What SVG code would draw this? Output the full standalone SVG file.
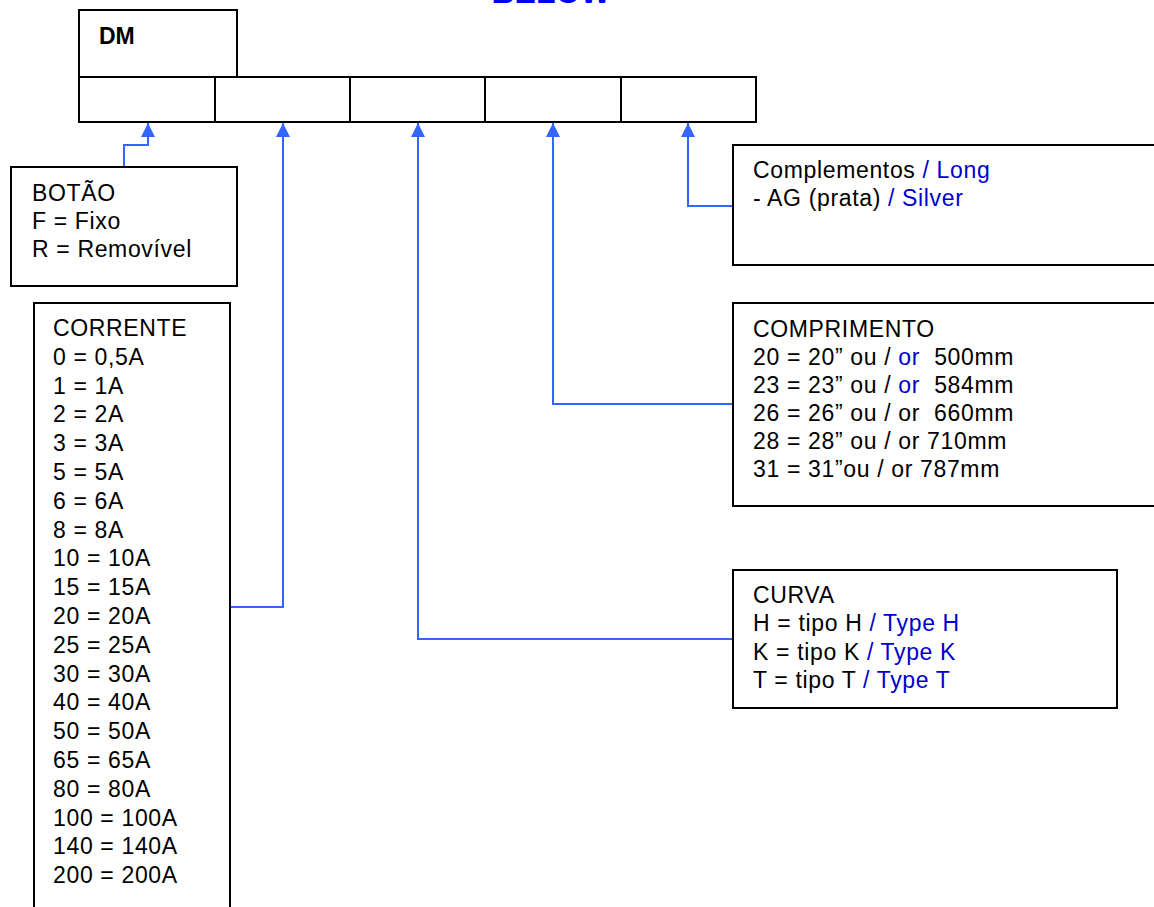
<svg xmlns="http://www.w3.org/2000/svg" width="1154" height="907" viewBox="0 0 1154 907">
<style>
.box{fill:#fff;stroke:#000;stroke-width:2}
.t{font-family:"Liberation Sans",Arial,sans-serif;font-size:23px;letter-spacing:0.65px;fill:#000;white-space:pre}
.b{fill:#0000cc}
.con{fill:none;stroke:#3366ff;stroke-width:2}
</style>
<defs>
<marker id="ah" markerWidth="14" markerHeight="14" viewBox="0 0 14 14" refX="14" refY="7" orient="auto" markerUnits="userSpaceOnUse">
<path d="M0,0 L14,7 L0,14 Z" fill="#3366ff"/>
</marker>
</defs>
<rect width="1154" height="907" fill="#fff"/>
<text x="551" y="3" text-anchor="middle" font-family="Liberation Sans,Arial,sans-serif" font-weight="bold" font-size="32" fill="#0000ff">BELOW</text>
<g id="header">
<rect class="box" x="79" y="10" width="158" height="67"/>
<text x="99" y="44" font-family="Liberation Sans,Arial,sans-serif" font-weight="bold" font-size="23" fill="#000">DM</text>
<rect class="box" x="79" y="77" width="136" height="45"/>
<rect class="box" x="215" y="77" width="135" height="45"/>
<rect class="box" x="350" y="77" width="135" height="45"/>
<rect class="box" x="485" y="77" width="136" height="45"/>
<rect class="box" x="621" y="77" width="135" height="45"/>
</g>
<g id="connectors">
<path class="con" d="M124,167 V145 H148 V123" marker-end="url(#ah)"/>
<path class="con" d="M230,607 H283 V123" marker-end="url(#ah)"/>
<path class="con" d="M733,639 H418 V123" marker-end="url(#ah)"/>
<path class="con" d="M733,404 H553 V123" marker-end="url(#ah)"/>
<path class="con" d="M733,206 H688 V123" marker-end="url(#ah)"/>
</g>
<g id="botao">
<rect class="box" x="11" y="167" width="226" height="119"/>
<text class="t" x="32" y="201">BOTÃO</text>
<text class="t" x="32" y="229">F = Fixo</text>
<text class="t" x="32" y="257">R = Removível</text>
</g>
<g id="corrente">
<rect class="box" x="34" y="303" width="196" height="620"/>
<text class="t" x="53">
<tspan x="53" y="336">CORRENTE</tspan>
<tspan x="53" y="364.8">0 = 0,5A</tspan>
<tspan x="53" y="393.6">1 = 1A</tspan>
<tspan x="53" y="422.4">2 = 2A</tspan>
<tspan x="53" y="451.2">3 = 3A</tspan>
<tspan x="53" y="480">5 = 5A</tspan>
<tspan x="53" y="508.8">6 = 6A</tspan>
<tspan x="53" y="537.6">8 = 8A</tspan>
<tspan x="53" y="566.4">10 = 10A</tspan>
<tspan x="53" y="595.2">15 = 15A</tspan>
<tspan x="53" y="624">20 = 20A</tspan>
<tspan x="53" y="652.8">25 = 25A</tspan>
<tspan x="53" y="681.6">30 = 30A</tspan>
<tspan x="53" y="710.4">40 = 40A</tspan>
<tspan x="53" y="739.2">50 = 50A</tspan>
<tspan x="53" y="768">65 = 65A</tspan>
<tspan x="53" y="796.8">80 = 80A</tspan>
<tspan x="53" y="825.6">100 = 100A</tspan>
<tspan x="53" y="854.4">140 = 140A</tspan>
<tspan x="53" y="883.2">200 = 200A</tspan>
</text>
</g>
<g id="complementos">
<rect class="box" x="733" y="145" width="440" height="120"/>
<text class="t" x="753" y="178">Complementos <tspan class="b">/ Long</tspan></text>
<text class="t" x="753" y="206">- AG (prata) <tspan class="b">/ Silver</tspan></text>
</g>
<g id="comprimento">
<rect class="box" x="733" y="303" width="440" height="203"/>
<text class="t" x="753" y="337">COMPRIMENTO</text>
<text class="t" x="753" y="365">20 = 20” ou / <tspan class="b">or</tspan>  500mm</text>
<text class="t" x="753" y="393">23 = 23” ou / <tspan class="b">or</tspan>  584mm</text>
<text class="t" x="753" y="421">26 = 26” ou / or  660mm</text>
<text class="t" x="753" y="449">28 = 28” ou / or 710mm</text>
<text class="t" x="753" y="477">31 = 31”ou / or 787mm</text>
</g>
<g id="curva">
<rect class="box" x="733" y="570" width="384" height="138"/>
<text class="t" x="753" y="603">CURVA</text>
<text class="t" x="753" y="631">H = tipo H <tspan class="b">/ Type H</tspan></text>
<text class="t" x="753" y="660">K = tipo K <tspan class="b">/ Type K</tspan></text>
<text class="t" x="753" y="688">T = tipo T <tspan class="b">/ Type T</tspan></text>
</g>
</svg>
